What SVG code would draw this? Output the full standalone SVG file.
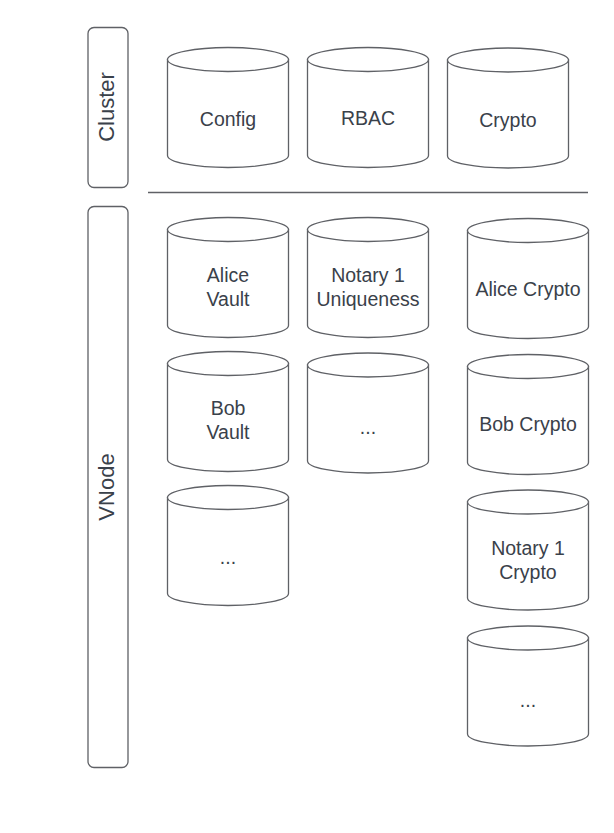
<svg xmlns="http://www.w3.org/2000/svg" xmlns:xlink="http://www.w3.org/1999/xlink" width="614" height="833" viewBox="0 0 614 833">
<style>
.cyl{fill:#ffffff;stroke:#5f6166;stroke-width:1.3}
.bar{fill:#ffffff;stroke:#5f6166;stroke-width:1.3}
.t{font-family:"Liberation Sans",Arial,sans-serif;font-size:19.5px;fill:#3a414a;text-anchor:middle;dominant-baseline:central}
.lane{font-size:22px}
</style>
<defs>
<g id="cylinder">
<path class="cyl" d="M0,12 L0,108 A60.5,12 0 0 0 121,108 L121,12 Z"/>
<ellipse class="cyl" cx="60.5" cy="12" rx="60.5" ry="12"/>
</g>
</defs>
<rect width="614" height="833" fill="#ffffff"/>
<g id="cluster-lane">
<rect class="bar" x="88" y="27.5" width="40" height="160" rx="6"/>
<text class="t lane" transform="translate(106,107) rotate(-90)">Cluster</text>
</g>
<g id="vnode-lane">
<rect class="bar" x="88" y="206.5" width="40" height="561" rx="6"/>
<text class="t lane" transform="translate(106,487) rotate(-90)">VNode</text>
</g>
<g id="connectors">
<line x1="148" y1="192.5" x2="588" y2="192.5" stroke="#5f6166" stroke-width="1.3"/>
</g>
<g id="config"><use xlink:href="#cylinder" x="167.5" y="47.5"/><text class="t" x="228" y="119">Config</text></g>
<g id="rbac"><use xlink:href="#cylinder" x="307.5" y="47.5"/><text class="t" x="368" y="118">RBAC</text></g>
<g id="crypto"><use xlink:href="#cylinder" x="447.5" y="48"/><text class="t" x="508" y="120">Crypto</text></g>
<g id="alice-vault"><use xlink:href="#cylinder" x="167.5" y="217.5"/><text class="t" x="228" y="275">Alice</text><text class="t" x="228" y="299">Vault</text></g>
<g id="notary-uniqueness"><use xlink:href="#cylinder" x="307.5" y="217.5"/><text class="t" x="368" y="275">Notary 1</text><text class="t" x="368" y="299">Uniqueness</text></g>
<g id="alice-crypto"><use xlink:href="#cylinder" x="467.5" y="218.5"/><text class="t" x="528" y="289">Alice Crypto</text></g>
<g id="bob-vault"><use xlink:href="#cylinder" x="167.5" y="351.5"/><text class="t" x="228" y="408">Bob</text><text class="t" x="228" y="432">Vault</text></g>
<g id="more-uniqueness"><use xlink:href="#cylinder" x="307.5" y="353"/><text class="t" x="368" y="427">...</text></g>
<g id="bob-crypto"><use xlink:href="#cylinder" x="467.5" y="354.5"/><text class="t" x="528" y="424">Bob Crypto</text></g>
<g id="more-vault"><use xlink:href="#cylinder" x="167.5" y="485.5"/><text class="t" x="228" y="557">...</text></g>
<g id="notary-crypto"><use xlink:href="#cylinder" x="467.5" y="490"/><text class="t" x="528" y="548">Notary 1</text><text class="t" x="528" y="572">Crypto</text></g>
<g id="more-crypto"><use xlink:href="#cylinder" x="467.5" y="626"/><text class="t" x="528" y="700">...</text></g>
</svg>
